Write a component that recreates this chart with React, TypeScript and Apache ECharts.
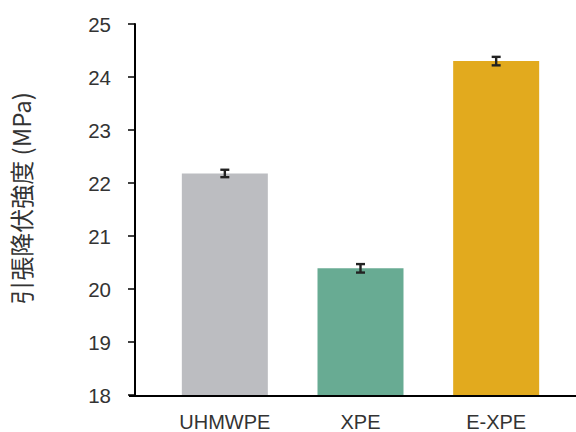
import React, { useEffect, useRef } from "react";
import * as echarts from "echarts";

const categories = ["UHMWPE", "XPE", "E-XPE"];
const values = [22.18, 20.39, 24.3];
const errors = [0.07, 0.08, 0.08];
const colors = ["#BCBDC1", "#68AB93", "#E2AA1E"];
const yTicks = [18, 19, 20, 21, 22, 23, 24, 25];

const latin = "'Liberation Sans', Arial, sans-serif";

export default function App() {
  const ref = useRef<HTMLDivElement>(null);
  useEffect(() => {
    const chart = echarts.init(ref.current!, null, { renderer: "svg" });
    const errData = values.map((v, i) => [i, v - errors[i], v + errors[i]]);
    chart.setOption({
      animation: false,
      backgroundColor: "#ffffff",
      grid: { left: 151, right: 12, top: 24, bottom: 36 },
      xAxis: {
        type: "category",
        data: categories,
        axisLine: { show: false },
        axisTick: { show: false },
        axisLabel: {
          color: "#333",
          fontSize: 20,
          fontFamily: latin,
          margin: 17,
        },
      },
      yAxis: {
        type: "value",
        min: yTicks[0],
        max: yTicks[yTicks.length - 1],
        interval: 1,
        offset: 22,
        name: "引張降伏強度 (MPa)",
        nameLocation: "middle",
        nameGap: 103,
        nameTextStyle: {
          color: "#333",
          fontSize: 24,
          fontFamily: "'Noto Sans CJK JP', sans-serif",
          padding: [0, 0, 0, 22],
        },
        splitLine: { show: false },
        axisLine: { show: true, lineStyle: { color: "#000", width: 2 } },
        axisTick: { show: true, inside: false, length: 7, lineStyle: { color: "#000", width: 1.5 } },
        axisLabel: {
          color: "#333",
          fontSize: 20.5,
          fontFamily: latin,
          margin: 24,
        },
      },
      graphic: [
        {
          type: "line",
          shape: { x1: 129, y1: 396, x2: 576, y2: 396 },
          style: { stroke: "#000", lineWidth: 2 },
          z: 10,
        },
      ],
      series: [
        {
          type: "bar",
          barWidth: 86,
          data: values.map((v, i) => ({ value: v, itemStyle: { color: colors[i] } })),
        },
        {
          type: "custom",
          data: errData,
          z: 5,
          renderItem: (params: any, api: any) => {
            const x = api.value(0);
            const lo = api.coord([x, api.value(1)]);
            const hi = api.coord([x, api.value(2)]);
            const hw = 4.5;
            const st = { stroke: "#222", lineWidth: 2.4 };
            return {
              type: "group",
              children: [
                { type: "line", shape: { x1: lo[0], y1: lo[1], x2: hi[0], y2: hi[1] }, style: st },
                { type: "line", shape: { x1: lo[0] - hw, y1: lo[1], x2: lo[0] + hw, y2: lo[1] }, style: st },
                { type: "line", shape: { x1: hi[0] - hw, y1: hi[1], x2: hi[0] + hw, y2: hi[1] }, style: st },
              ],
            };
          },
        },
      ],
    });
    return () => chart.dispose();
  }, []);
  return <div ref={ref} style={{ width: 576, height: 432, position: "fixed", left: 0, top: 0 }} />;
}
